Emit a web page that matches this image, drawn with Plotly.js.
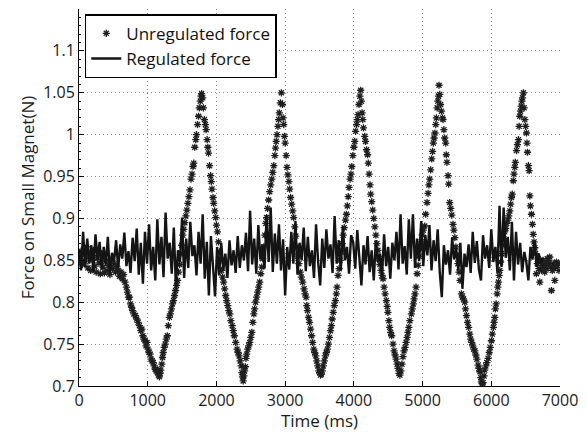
<!DOCTYPE html>
<html>
<head>
<meta charset="utf-8">
<script src="https://cdn.plot.ly/plotly-3.0.1.min.js"></script>
<style>
  html, body { margin: 0; padding: 0; background: #ffffff; }
  #chart { width: 587px; height: 432px; }
</style>
</head>
<body>
<div id="chart"></div>
<script>
// ---- data ----
// Unregulated force samples: [time (ms), force (N)]
var unregulatedSamples = [
  [10,0.852],[30,0.861],[50,0.845],[70,0.858],[90,0.849],[110,0.866],[130,0.841],[150,0.855],[170,0.838],[190,0.851],
  [210,0.862],[230,0.843],[250,0.836],[270,0.853],[290,0.847],[310,0.834],[330,0.858],[350,0.842],[370,0.835],[390,0.849],
  [410,0.838],[430,0.844],[450,0.833],[470,0.851],[490,0.840],[510,0.846],[530,0.836],[550,0.843],[570,0.838],[590,0.831],
  [610,0.836],[630,0.828],[650,0.833],[670,0.824],
  [690,0.818],[705,0.812],[720,0.806],[735,0.806],[750,0.798],[765,0.794],[780,0.790],[800,0.786],[820,0.784],[840,0.780],
  [860,0.776],[880,0.772],[900,0.766],[915,0.768],[930,0.760],[945,0.756],[960,0.754],[975,0.748],[990,0.752],[1005,0.744],
  [1020,0.740],[1035,0.738],[1050,0.732],[1065,0.730],[1080,0.728],[1095,0.724],[1110,0.720],[1125,0.718],[1140,0.716],[1150,0.719],
  [1160,0.713],[1170,0.711],[1180,0.715],[1190,0.719],
  [1205,0.726],[1215,0.734],[1225,0.740],[1240,0.746],[1255,0.750],[1270,0.756],[1285,0.760],[1300,0.772],[1315,0.782],[1330,0.786],
  [1345,0.792],[1360,0.798],[1375,0.802],[1390,0.808],[1405,0.814],[1420,0.820],[1435,0.826],[1450,0.836],[1465,0.845],[1480,0.858],
  [1495,0.868],[1510,0.880],[1525,0.887],[1540,0.895],[1555,0.903],[1570,0.910],[1585,0.918],[1600,0.926],[1615,0.934],[1630,0.947],
  [1645,0.953],[1660,0.962],[1670,0.966],[1685,0.985],[1700,0.994],[1710,1.000],[1725,1.012],[1740,1.022],[1750,1.032],[1765,1.040],
  [1775,1.046],[1785,1.049],
  [1800,1.044],[1810,1.032],[1825,1.018],[1840,1.012],[1850,1.006],[1865,0.994],[1875,0.985],[1885,0.978],[1900,0.963],[1915,0.951],
  [1925,0.944],[1935,0.935],[1950,0.925],[1960,0.918],[1975,0.909],[1990,0.901],[2000,0.892],[2015,0.884],[2030,0.872],[2045,0.860],
  [2060,0.850],[2075,0.838],[2090,0.830],[2105,0.824],[2120,0.816],[2135,0.808],[2150,0.802],[2165,0.796],[2180,0.790],[2195,0.786],
  [2210,0.778],[2230,0.772],[2245,0.766],[2260,0.760],[2280,0.752],[2300,0.744],[2315,0.740],[2330,0.736],[2345,0.730],[2360,0.724],
  [2370,0.716],[2380,0.711],[2390,0.706],
  [2400,0.712],[2410,0.718],[2420,0.723],[2430,0.733],[2440,0.738],[2455,0.744],[2470,0.748],[2485,0.752],[2500,0.758],[2515,0.764],
  [2530,0.776],[2545,0.786],[2555,0.792],[2570,0.800],[2585,0.806],[2600,0.812],[2615,0.818],[2630,0.824],[2645,0.834],[2660,0.842],
  [2675,0.852],[2690,0.866],[2705,0.880],[2720,0.894],[2730,0.901],[2745,0.912],[2760,0.922],[2775,0.932],[2790,0.940],[2805,0.947],
  [2820,0.955],[2835,0.963],[2850,0.975],[2860,0.984],[2870,0.992],[2882,1.000],[2895,1.010],[2905,1.018],[2915,1.026],[2930,1.038],
  [2945,1.050],
  [2960,1.036],[2970,1.020],[2980,1.012],[2990,0.998],[3000,0.990],[3015,0.975],[3027,0.961],[3040,0.952],[3055,0.944],[3066,0.935],
  [3080,0.925],[3095,0.917],[3110,0.909],[3124,0.901],[3140,0.890],[3155,0.879],[3170,0.866],[3185,0.855],[3200,0.846],[3220,0.836],
  [3236,0.830],[3255,0.824],[3275,0.816],[3290,0.810],[3305,0.806],[3315,0.796],[3325,0.790],[3340,0.782],[3355,0.776],[3370,0.768],
  [3385,0.760],[3400,0.752],[3416,0.744],[3430,0.740],[3445,0.736],[3460,0.730],[3475,0.724],[3490,0.718],[3503,0.716],[3515,0.713],
  [3525,0.714],
  [3540,0.718],[3555,0.724],[3570,0.730],[3585,0.736],[3600,0.740],[3615,0.744],[3630,0.750],[3645,0.758],[3660,0.766],[3673,0.772],
  [3685,0.780],[3700,0.788],[3715,0.796],[3731,0.802],[3745,0.810],[3755,0.818],[3770,0.832],[3785,0.840],[3800,0.850],[3815,0.860],
  [3830,0.870],[3845,0.880],[3860,0.889],[3878,0.898],[3892,0.905],[3905,0.915],[3918,0.926],[3930,0.937],[3945,0.947],[3958,0.953],
  [3970,0.962],[3985,0.975],[4000,0.985],[4013,0.992],[4025,1.004],[4040,1.012],[4050,1.018],[4061,1.024],[4075,1.036],[4088,1.046],
  [4100,1.053],
  [4110,1.040],[4120,1.026],[4130,1.018],[4140,1.008],[4158,0.998],[4170,0.992],[4185,0.982],[4200,0.976],[4210,0.966],[4222,0.953],
  [4235,0.940],[4245,0.929],[4260,0.920],[4275,0.910],[4290,0.900],[4305,0.890],[4320,0.880],[4335,0.870],[4350,0.862],[4365,0.852],
  [4380,0.845],[4395,0.838],[4410,0.832],[4425,0.828],[4440,0.818],[4455,0.810],[4473,0.802],[4485,0.795],[4495,0.788],[4510,0.778],
  [4521,0.770],[4535,0.764],[4550,0.760],[4570,0.750],[4585,0.742],[4600,0.737],[4615,0.732],[4630,0.726],[4643,0.721],[4657,0.715],
  [4670,0.713],
  [4685,0.718],[4700,0.726],[4715,0.735],[4730,0.742],[4745,0.746],[4760,0.752],[4775,0.758],[4788,0.764],[4800,0.770],[4815,0.778],
  [4837,0.786],[4850,0.792],[4865,0.798],[4876,0.804],[4890,0.810],[4905,0.818],[4921,0.834],[4935,0.844],[4950,0.855],[4965,0.864],
  [4980,0.872],[4995,0.880],[5010,0.886],[5031,0.891],[5045,0.905],[5065,0.919],[5080,0.930],[5092,0.940],[5104,0.947],[5118,0.958],
  [5133,0.971],[5145,0.980],[5157,0.990],[5167,0.996],[5180,1.002],[5192,1.012],[5201,1.020],[5212,1.032],[5222,1.040],[5232,1.046],
  [5240,1.059],
  [5250,1.048],[5262,1.036],[5275,1.028],[5290,1.020],[5298,1.018],[5310,1.006],[5322,0.996],[5337,0.990],[5345,0.976],[5355,0.967],
  [5371,0.951],[5380,0.941],[5395,0.919],[5410,0.912],[5425,0.904],[5443,0.893],[5455,0.886],[5470,0.877],[5485,0.866],[5500,0.856],
  [5515,0.846],[5530,0.836],[5545,0.826],[5566,0.810],[5580,0.806],[5595,0.804],[5614,0.800],[5625,0.792],[5639,0.784],[5655,0.776],
  [5670,0.770],[5687,0.762],[5700,0.756],[5715,0.752],[5730,0.748],[5745,0.744],[5760,0.742],[5775,0.737],[5790,0.732],[5808,0.725],
  [5820,0.721],[5835,0.717],[5847,0.710],[5857,0.705],[5868,0.703],[5880,0.704],
  [5895,0.712],[5905,0.719],[5920,0.724],[5935,0.728],[5954,0.733],[5970,0.740],[5985,0.746],[6002,0.754],[6015,0.762],[6030,0.770],
  [6040,0.776],[6051,0.782],[6060,0.792],[6070,0.798],[6085,0.810],[6095,0.818],[6105,0.824],[6115,0.832],[6124,0.838],[6135,0.848],
  [6150,0.858],[6165,0.868],[6180,0.876],[6195,0.884],[6210,0.888],[6225,0.894],[6240,0.898],[6255,0.903],[6270,0.909],[6282,0.917],
  [6294,0.925],[6305,0.929],[6320,0.945],[6330,0.953],[6342,0.961],[6350,0.967],[6367,0.981],[6380,0.988],[6396,0.994],[6405,1.010],
  [6415,1.022],[6425,1.028],[6435,1.034],[6445,1.040],[6454,1.044],[6468,1.050],
  [6478,1.032],[6488,1.018],[6500,1.010],[6512,1.002],[6520,0.990],[6527,0.979],[6540,0.963],[6551,0.957],[6561,0.927],[6570,0.915],
  [6585,0.905],[6599,0.893],[6610,0.881],[6622,0.872],[6633,0.865],[6645,0.858],
  [6657,0.834],[6670,0.846],[6682,0.852],[6694,0.840],[6706,0.824],[6718,0.848],[6730,0.838],[6742,0.844],[6754,0.850],[6766,0.842],
  [6778,0.836],[6790,0.846],[6802,0.840],[6815,0.852],[6827,0.850],[6840,0.846],[6851,0.854],[6863,0.842],[6875,0.814],[6888,0.838],
  [6900,0.846],[6912,0.840],[6924,0.826],[6936,0.842],[6948,0.848],[6960,0.844],[6972,0.846],[6985,0.838]
];

// Regulated force, sampled every regulatedStepMs starting at 0 ms
var regulatedStepMs = 30;
var regulatedForce = [
  0.862,0.838,0.884,0.842,0.876,0.846,0.868,0.836,0.881,0.851,0.872,0.839,0.866,0.845,0.878,0.834,0.859,0.848,0.874,0.840,
  0.869,0.852,0.883,0.843,0.861,0.835,0.877,0.849,0.888,0.833,0.871,0.822,0.884,0.846,
  0.893,0.838,0.866,0.826,0.899,0.845,0.878,0.830,0.907,0.852,0.871,0.834,0.889,0.818,0.862,0.848,0.901,0.829,0.876,0.841,
  0.896,0.855,0.868,0.832,0.884,0.846,0.905,0.828,0.872,0.808,0.879,0.842,0.807,
  0.866,0.832,0.871,0.838,0.858,0.829,0.874,0.844,0.862,0.835,0.879,0.841,0.868,0.850,0.883,0.837,0.909,0.845,0.876,0.834,
  0.892,0.851,0.869,0.840,0.904,0.848,0.913,0.836,0.882,0.846,0.893,0.838,0.875,
  0.808,0.866,0.839,0.884,0.846,0.897,0.833,0.871,0.850,0.889,0.837,0.878,0.843,0.862,0.829,0.893,0.848,0.820,0.876,0.841,
  0.887,0.852,0.869,0.835,0.903,0.846,0.874,0.838,0.891,0.850,0.866,0.834,0.880,
  0.872,0.840,0.886,0.851,0.820,0.868,0.845,0.879,0.836,0.862,0.826,0.874,0.848,0.858,0.832,0.881,0.843,0.866,0.828,0.871,
  0.850,0.884,0.839,0.905,0.846,0.867,0.833,0.899,0.852,0.905,0.841,0.876,0.849,
  0.897,0.843,0.880,0.856,0.892,0.838,0.874,0.849,0.887,0.836,0.806,0.868,0.845,0.862,0.833,0.877,0.851,0.864,0.838,0.871,
  0.816,0.858,0.842,0.869,0.835,0.884,0.847,0.873,0.839,0.826,0.880,0.852,0.868,
  0.841,0.887,0.848,0.866,0.835,0.915,0.842,0.913,0.853,0.878,0.838,0.896,0.826,0.884,0.845,0.871,0.836,0.860,0.848,0.826,
  0.866,0.851,0.873,0.842,0.858,0.847,0.853
];

var xTickVals = [0, 1000, 2000, 3000, 4000, 5000, 6000, 7000];
var yTickVals = [0.7, 0.75, 0.8, 0.85, 0.9, 0.95, 1, 1.05, 1.1];
var yTickText = ['0.7', '0.75', '0.8', '0.85', '0.9', '0.95', '1', '1.05', '1.1'];
var seriesNames = ['Unregulated force', 'Regulated force'];

// ---- build traces ----
var unregX = unregulatedSamples.map(function (p) { return p[0]; });
var unregY = unregulatedSamples.map(function (p) { return p[1]; });
var regX = regulatedForce.map(function (v, i) { return i * regulatedStepMs; });

var fontFamily = '"Open Sans", "Noto Sans", sans-serif';

var traces = [
  {
    x: unregX, y: unregY, name: seriesNames[0], type: 'scatter', mode: 'markers',
    marker: { symbol: 'asterisk-open', size: 6, color: '#1e1e1e', line: { width: 1.3, color: '#1e1e1e' } }
  },
  {
    x: regX, y: regulatedForce, name: seriesNames[1], type: 'scatter', mode: 'lines',
    line: { color: '#141414', width: 2.4 }
  }
];

var layout = {
  width: 587, height: 432,
  margin: { l: 79, r: 27, t: 9, b: 46 },
  paper_bgcolor: '#ffffff', plot_bgcolor: '#ffffff',
  font: { family: fontFamily, size: 16, color: '#1a1a1a' },
  showlegend: true,
  legend: {
    x: 0.012, y: 0.986, xanchor: 'left', yanchor: 'top',
    bgcolor: '#ffffff', bordercolor: '#000000', borderwidth: 1.5,
    font: { family: fontFamily, size: 17, color: '#111111' },
    tracegroupgap: 0
  },
  xaxis: {
    range: [0, 7000], tickvals: xTickVals,
    ticks: 'inside', ticklen: 5, tickcolor: '#000', tickwidth: 1,
    showline: true, linecolor: '#000', linewidth: 1, mirror: false,
    showgrid: true, gridcolor: '#8a8a8a', griddash: '1px,3px', gridwidth: 1,
    zeroline: false,
    tickfont: { family: fontFamily, size: 16, color: '#1a1a1a' },
    title: { text: 'Time (ms)', font: { family: fontFamily, size: 17, color: '#1a1a1a' }, standoff: 0 }
  },
  yaxis: {
    range: [0.7, 1.15], tickvals: yTickVals, ticktext: yTickText,
    ticks: 'inside', ticklen: 5, tickcolor: '#000', tickwidth: 1,
    minor: { ticks: 'inside', ticklen: 2, dtick: 0.01, tickcolor: '#000', showgrid: false },
    showline: true, linecolor: '#000', linewidth: 1, mirror: false,
    showgrid: true, gridcolor: '#8a8a8a', griddash: '1px,3px', gridwidth: 1,
    zeroline: false,
    tickfont: { family: fontFamily, size: 16, color: '#1a1a1a' },
    title: { text: 'Force on Small Magnet(N)', font: { family: fontFamily, size: 17, color: '#1a1a1a' }, standoff: 4 }
  }
};

Plotly.newPlot('chart', traces, layout, { staticPlot: true, displayModeBar: false });
</script>
</body>
</html>
